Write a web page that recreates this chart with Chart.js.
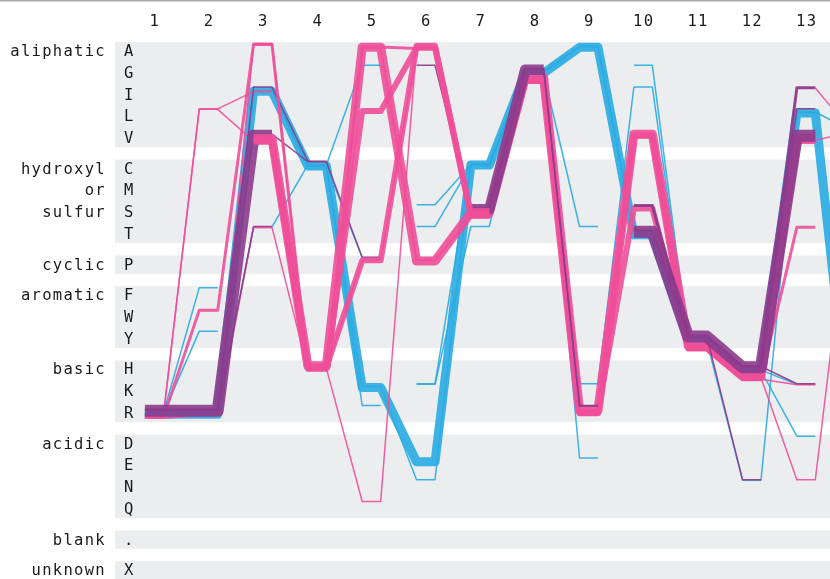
<!DOCTYPE html>
<html>
<head>
<meta charset="utf-8">
<script src="https://cdn.jsdelivr.net/npm/chart.js@4.4.1/dist/chart.umd.min.js"></script>
<style>
  html, body { margin: 0; background: #fff; }
  #wrap { width: 830px; height: 579px; position: relative; }
</style>
</head>
<body>
<div id="wrap"><canvas id="chart"></canvas></div>
<script>
const columns = ["1", "2", "3", "4", "5", "6", "7", "8", "9", "10", "11", "12", "13"];
const groupNames = ["aliphatic", ["hydroxyl", "or", "sulfur"], "cyclic", "aromatic", "basic", "acidic", "blank", "unknown"];
const groupLetters = [["A", "G", "I", "L", "V"], ["C", "M", "S", "T"], ["P"], ["F", "W", "Y"], ["H", "K", "R"], ["D", "E", "N", "Q"], ["."], ["X"]];

// [number of sequences, residue at positions 1..14] ("-" = nothing at that position)
const purplePaths = [
  [8, "RRV-----------"],
  [1, "RRIC----------"],
  [1, "RRVCP---------"],
  [1, "RRT-----------"],
  [7, "------SG------"],
  [1, "-----GSGR-----"],
  [1, "------SGR-----"],
  [8, "---------TYHV-"],
  [2, "---------SYHI-"],
  [1, "---------TYN--"],
  [1, "---------TYHK-"],
  [1, "---------SYHL-"]
];
const cyanPaths = [
  [6, "RRICKECGATYHLD"],
  [1, "RF------------"],
  [1, "RY------------"],
  [1, "RRTCG---------"],
  [1, "RRICP---------"],
  [1, "RRICR---------"],
  [1, "RRICKNCGATYHK-"],
  [1, "-----SCGATYHD-"],
  [1, "-----TCGKIYNLV"],
  [1, "-----KCGT-----"],
  [1, "-----KTGE-----"],
  [1, "---------GYHL-"]
];
const pinkPaths = [
  [6, "--VHAPSGRVYHV-"],
  [4, "--VHPASGRSYHV-"],
  [4, "--VHLASGRVYHV-"],
  [1, "RLI-----------"],
  [1, "RLVHQASGRVYHNM"],
  [2, "RWAHAASGRVYHT-"],
  [1, "RRAHPASGRVYHK-"],
  [1, "RRTHAPSGRVYHIV"],
  [1, "--VHAPSGRVYHVV"]
];

const colors = { purple: "#8c3b8c", pink: "#ee4f98", cyan: "#29abe2" };
const GROUP_GAP = 0.41;
const Y_MIN = -0.46, Y_MAX = 24.23, X_MIN = 0.28, X_MAX = 13.44;
const PAD_LEFT = 115, PAD_TOP = 42, H = 579;
const ROW_PX = (H - PAD_TOP) / (Y_MAX - Y_MIN);
const PX_PER_SEQ = 1.5, OVERLAP = 0.3, FLAT = 0.17;
const FONT = "15.5px 'DejaVu Sans Mono', monospace";

const letterPos = {};
let k = 0;
groupLetters.forEach((g, gi) => g.forEach(l => { letterPos[l] = k++ + gi * GROUP_GAP; }));

function rgba(hex, a) {
  const n = parseInt(hex.slice(1), 16);
  return `rgba(${n >> 16},${(n >> 8) & 255},${n & 255},${a})`;
}

// drawing layers: [from position, to position, order] (lower order is drawn on top)
const layers = {
  purple: [[1, 14, 1]],
  cyan: [[1, 14, 2]],
  pink: [[1, 3, 1.5], [3, 7, 0], [7, 14, 1.5]]
};

const stacks = {};
const datasets = [];
[["purple", purplePaths], ["cyan", cyanPaths], ["pink", pinkPaths]].forEach(([name, paths]) => {
  paths.forEach(([n, seq]) => {
    const w = n * PX_PER_SEQ;
    const ys = [...seq].map((l, i) => {
      if (l === "-") return null;
      const key = (i + 1) + "|" + l;
      const used = stacks[key] || 0;
      stacks[key] = used + w;
      return letterPos[l] - 0.42 + (used * OVERLAP + w / 2) / ROW_PX;
    });
    layers[name].forEach(([from, to, order]) => {
      const data = [];
      ys.forEach((y, i) => {
        const col = i + 1;
        if (y === null || col < from || col > to) { data.push({ x: col, y: null }); return; }
        data.push({ x: col - FLAT, y: y }, { x: col + FLAT, y: y });
      });
      datasets.push({
        data: data,
        borderColor: rgba(colors[name], 0.9),
        borderWidth: w,
        borderJoinStyle: "round",
        pointRadius: 0,
        tension: 0,
        spanGaps: false,
        order: order
      });
    });
  });
});

const backdrop = {
  id: "backdrop",
  beforeDatasetsDraw(chart) {
    const { ctx, chartArea, scales } = chart;
    const ys = scales.y, xs = scales.x;
    ctx.save();
    ctx.strokeStyle = "#a9a9a9";
    ctx.lineWidth = 1.5;
    ctx.beginPath(); ctx.moveTo(0, 0.75); ctx.lineTo(chart.width, 0.75); ctx.stroke();

    ctx.fillStyle = "#ecedee";
    groupLetters.forEach(g => {
      const top = ys.getPixelForValue(letterPos[g[0]] - 0.46);
      const bot = ys.getPixelForValue(letterPos[g[g.length - 1]] + 0.38);
      ctx.fillRect(chartArea.left, top, chartArea.right - chartArea.left, bot - top);
    });

    ctx.font = FONT;
    ctx.letterSpacing = "1.3px";
    ctx.fillStyle = "#1a1a1a";
    ctx.textBaseline = "middle";
    ctx.textAlign = "left";
    groupLetters.forEach(g => g.forEach(l => {
      ctx.fillText(l, chartArea.left + 9, ys.getPixelForValue(letterPos[l]));
    }));
    ctx.textAlign = "right";
    groupNames.forEach((name, gi) => {
      const lines = Array.isArray(name) ? name : [name];
      lines.forEach((t, j) => {
        ctx.fillText(t, chartArea.left - 9, ys.getPixelForValue(letterPos[groupLetters[gi][j]]));
      });
    });
    ctx.textAlign = "center";
    columns.forEach((c, i) => {
      ctx.fillText(c, xs.getPixelForValue(i + 1) + 0.6, 22);
    });
    ctx.restore();
  }
};

new Chart(document.getElementById("chart"), {
  type: "line",
  data: { datasets: datasets },
  options: {
    responsive: true,
    maintainAspectRatio: false,
    animation: false,
    events: [],
    layout: { padding: { left: PAD_LEFT, top: PAD_TOP, right: 0, bottom: 0 } },
    plugins: { legend: { display: false }, tooltip: { enabled: false } },
    scales: {
      x: { type: "linear", min: X_MIN, max: X_MAX, display: false },
      y: { type: "linear", min: Y_MIN, max: Y_MAX, reverse: true, display: false }
    }
  },
  plugins: [backdrop]
});
</script>
</body>
</html>
